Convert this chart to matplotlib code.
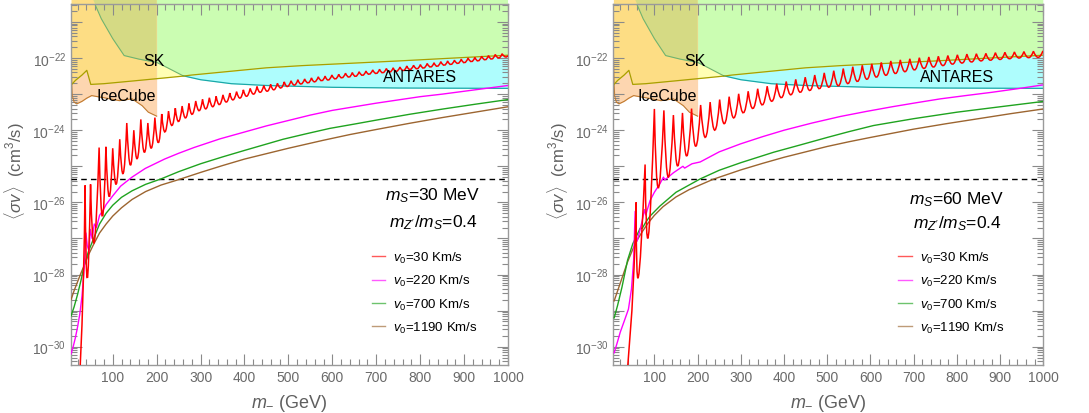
import numpy as np
import matplotlib
matplotlib.use('Agg')
import matplotlib.pyplot as plt
from matplotlib.path import Path
from matplotlib.patches import PathPatch
from matplotlib.lines import Line2D
from matplotlib.ticker import FixedLocator, FuncFormatter, LogLocator, MultipleLocator, NullFormatter

plt.rcParams['font.family'] = ['Liberation Sans', 'DejaVu Sans']
plt.rcParams['mathtext.fontset'] = 'custom'
plt.rcParams['mathtext.rm'] = 'Liberation Sans'
plt.rcParams['mathtext.it'] = 'Liberation Sans:italic'
plt.rcParams['mathtext.bf'] = 'Liberation Sans:bold'

# ---------------- data (log10 of <sigma v> in cm^3/s, x in GeV) ----------------
# exclusion-region boundaries (same in both panels)
sk_x = [52, 74, 100, 126, 160, 200, 225, 260, 300, 370, 450, 600, 750, 1000]
sk_logy = [-20.3, -20.91, -21.46, -21.93, -22.03, -22.12, -22.27, -22.49, -22.6, -22.71, -22.76, -22.81, -22.83, -22.84]
sk_split = 7  # index where the boundary passes below the upper (olive) curve

up_x = [5, 15, 30, 41, 50, 80, 150, 210, 260, 280, 450, 530, 750, 1000]
up_logy = [-22.75, -22.62, -22.47, -22.34, -22.73, -22.71, -22.63, -22.56, -22.5, -22.47, -22.27, -22.21, -22.08, -21.92]

ic_x = [5, 6.5, 8, 12, 18, 30, 41, 52, 70, 85, 115, 144, 167, 181, 200]
ic_logy = [-21.8, -22.6, -23.05, -23.22, -23.27, -23.2, -23.11, -23.04, -23.08, -23.11, -23.18, -23.13, -23.32, -23.5, -23.61]

relic = 4.4e-26

y_decades = list(range(-30, -20))   # major y ticks (10^-30 ... 10^-21)
x_major = list(range(100, 1001, 100))

# ---- left panel: m_S = 30 MeV ----
red30_x = [25, 30, 33, 35.5, 37,
           42, 49.5, 58, 69, 76.5, 84.5, 92, 100, 108, 116, 124, 132, 140, 148, 156, 164,
           172, 180, 188, 196, 204, 211.5, 219, 227, 235, 242.5, 250, 258, 266, 273.5,
           281, 289, 297, 304.5, 312, 320, 328, 335.5, 343, 351, 359, 366.5, 374, 382,
           390, 397.5, 405, 413, 421, 428.5, 436, 444, 452, 459.5, 467, 475, 483, 490.5,
           498, 506, 514, 521.5, 529, 537, 545, 552.5, 560, 568, 576, 583.5, 591, 599,
           607, 614.5, 622, 630, 638, 645.5, 653, 661, 669, 676.5, 684, 692, 700, 707.5,
           715, 723, 731, 738.5, 746, 754, 762, 769.5, 777, 785, 793, 800.5, 808, 816,
           824, 831.5, 839, 847, 855, 862.5, 870, 878, 886, 893.5, 901, 909, 917, 924.5,
           932, 940, 948, 955.5, 963, 971, 979, 986.5, 994, 1000]
red30_logy = [-30.8, -29.4, -28.2, -26.9, -25.53,
              -28.12, -25.5, -27.1, -24.48, -26.4, -24.46, -25.85, -24.5, -25.5, -24.25, -25.2, -23.8, -24.97, -24.0, -24.79, -23.7,
              -24.62, -23.8, -24.5, -23.65, -24.35, -23.55, -24.05, -23.47, -23.87, -23.39, -23.76, -23.33, -23.66, -23.26,
              -23.56, -23.19, -23.46, -23.14, -23.41, -23.10, -23.35, -23.06, -23.29, -23.02, -23.22, -22.97, -23.16, -22.93,
              -23.11, -22.88, -23.06, -22.84, -23.00, -22.79, -22.95, -22.76, -22.92, -22.73, -22.88, -22.70, -22.83, -22.66,
              -22.79, -22.63, -22.75, -22.60, -22.72, -22.58, -22.69, -22.55, -22.66, -22.52, -22.63, -22.50, -22.61, -22.47,
              -22.58, -22.45, -22.55, -22.42, -22.53, -22.40, -22.51, -22.38, -22.48, -22.36, -22.45, -22.33, -22.43, -22.31,
              -22.41, -22.29, -22.39, -22.27, -22.37, -22.25, -22.35, -22.22, -22.32, -22.20, -22.30, -22.18, -22.28, -22.15,
              -22.25, -22.13, -22.23, -22.10, -22.20, -22.08, -22.18, -22.06, -22.15, -22.03, -22.13, -22.00, -22.10, -21.98,
              -22.08, -21.95, -22.05, -21.93, -22.03, -21.90, -22.00, -21.88, -21.97, -21.93]

mag30_x = [5, 10, 15, 20, 25, 30, 34, 37, 39, 42, 46, 49, 53, 58, 63, 70, 78, 85, 100, 118, 144, 174, 218, 250, 285, 344,
           400, 450, 500, 550, 600, 650, 700, 750, 800, 850, 900, 950, 1000]
mag30_logy = [-30.2, -30.0, -29.75, -29.45, -29.1, -28.6, -28.0, -27.4, -26.85, -27.2, -27.35, -26.75, -27.0, -26.6, -26.7,
              -26.36, -26.22, -26.06, -25.82, -25.55, -25.3, -25.06, -24.8, -24.64, -24.48, -24.24,
              -24.05, -23.88, -23.73, -23.58, -23.45, -23.35, -23.25, -23.16, -23.07, -23.0, -22.92, -22.84, -22.76]

grn30_x = [5, 12, 20, 28, 35, 45, 55, 70, 85, 100, 120, 144, 175, 210, 250, 300, 350, 400, 488, 540, 594, 650, 700,
           775, 853, 925, 1000]
grn30_logy = [-29.15, -28.9, -28.55, -28.15, -27.75, -27.35, -27.05, -26.6, -26.3, -26.08, -25.86, -25.68, -25.5, -25.35,
              -25.15, -24.93, -24.74, -24.56, -24.25, -24.1, -23.95, -23.83, -23.72, -23.56, -23.41, -23.28, -23.15]

brn30_x = [5, 12, 20, 28, 35, 45, 55, 70, 85, 100, 120, 144, 175, 210, 250, 300, 350, 400, 450, 500, 579, 640, 700,
           775, 850, 925, 1000]
brn30_logy = [-28.7, -28.45, -28.2, -27.95, -27.75, -27.45, -27.2, -26.85, -26.6, -26.38, -26.15, -25.92, -25.7, -25.52,
              -25.37, -25.17, -24.98, -24.8, -24.65, -24.5, -24.28, -24.12, -23.98, -23.81, -23.65, -23.5, -23.35]

# ---- right panel: m_S = 60 MeV ----
red60_x = [38, 48, 53, 56, 57.7,
           63, 78.5, 86, 100, 109, 122, 132, 144, 154, 165, 175, 186, 196, 207, 218, 229,
           240, 251, 262, 273, 284, 295, 306, 317, 328, 339, 350, 361, 372, 383, 394, 405,
           416, 427, 438, 449, 460, 471, 482, 493, 504, 515, 526, 537, 548, 559, 570, 581,
           592, 603, 614, 625, 636, 647, 658, 669, 680, 691, 702, 713, 724, 735, 746, 757,
           768, 779, 790, 801, 812, 823, 834, 845, 856, 867, 878, 889, 900, 911, 922, 933,
           944, 955, 966, 977, 988, 999]
red60_logy = [-30.6, -29.0, -27.8, -26.8, -26.0,
              -28.08, -24.95, -26.95, -23.41, -25.6, -23.45, -25.3, -23.58, -25.0, -23.52, -24.72, -23.4, -24.45, -23.3, -24.2, -23.22,
              -24.0, -23.15, -23.82, -23.07, -23.66, -22.99, -23.52, -22.92, -23.4, -22.85, -23.3, -22.78, -23.2, -22.71, -23.1, -22.65,
              -23.02, -22.59, -22.95, -22.53, -22.9, -22.47, -22.85, -22.41, -22.81, -22.35, -22.77, -22.29, -22.71, -22.24, -22.65, -22.2,
              -22.59, -22.16, -22.53, -22.12, -22.48, -22.08, -22.43, -22.05, -22.38, -22.02, -22.33, -21.99, -22.29, -21.97, -22.25, -21.95,
              -22.21, -21.93, -22.17, -21.91, -22.14, -21.89, -22.11, -21.88, -22.08, -21.87, -22.06, -21.85, -22.04, -21.84, -22.02, -21.83,
              -22.0, -21.82, -21.99, -21.81, -21.98, -21.80]

mag60_x = [7, 15, 21, 30, 40, 47, 52, 55.5, 57, 60, 66, 72, 77, 80, 90, 100, 113, 121, 124, 144, 166, 170, 187, 206, 250,
           299, 350, 400, 465, 530, 590, 650, 705, 762, 820, 880, 940, 1001]
mag60_logy = [-30.17, -29.85, -29.6, -29.3, -28.96, -28.4, -27.6, -26.25, -26.95, -27.07, -26.8, -26.5, -26.2, -26.35,
              -25.95, -25.72, -25.48, -25.3, -25.38, -25.18, -25.0, -25.05, -24.93, -24.88, -24.6, -24.38, -24.18, -24.0,
              -23.8, -23.62, -23.48, -23.35, -23.24, -23.13, -23.04, -22.95, -22.85, -22.74]

grn60_x = [7, 15, 25, 38, 50, 60, 67, 72, 80, 90, 113, 150, 206, 250, 300, 376, 440, 500, 550, 607, 700, 800, 900, 1001]
grn60_logy = [-29.2, -28.85, -28.35, -27.6, -27.15, -26.9, -26.72, -26.72, -26.55, -26.38, -26.1, -25.72, -25.35, -25.11,
              -24.9, -24.61, -24.4, -24.2, -24.04, -23.87, -23.68, -23.5, -23.35, -23.2]

brn60_x = [7, 15, 25, 38, 50, 60, 70, 85, 100, 120, 150, 180, 236, 300, 350, 400, 450, 500, 550, 600, 700, 775, 850, 925, 1000]
brn60_logy = [-28.73, -28.45, -28.1, -27.65, -27.3, -27.05, -26.85, -26.58, -26.36, -26.12, -25.85, -25.65, -25.36, -25.1,
              -24.92, -24.75, -24.6, -24.45, -24.32, -24.2, -23.97, -23.82, -23.68, -23.54, -23.41]

legend_labels = [r'$v_0$=30 Km/s', r'$v_0$=220 Km/s', r'$v_0$=700 Km/s', r'$v_0$=1190 Km/s']
panel_labels = [(r'$m_S$=30 MeV', r"$m_{Z'}/m_S$=0.4"), (r'$m_S$=60 MeV', r"$m_{Z'}/m_S$=0.4")]

# ---------------- styling ----------------
C_RED, C_MAG, C_GRN, C_BRN = '#ff0000', '#ff00ff', '#1fa31f', '#9c6530'
F_CYAN, F_PALE, F_GREEN = '#aefdfd', '#ffffb4', '#cbfdb2'
F_PEACH, F_GOLD, F_OLIVE = '#fdd6b0', '#fddd84', '#d5da84'
TICK_C = '#8a8a8a'
LAB_C = '#5f5f5f'


def L(v):
    return 10.0 ** np.asarray(v, dtype=float)


def resonance_path(xs, logys, n_rise):
    """Straight segments up to the first peak, then for each (trough, peak) pair a
    quadratic curve from the previous peak through the listed trough to the next peak."""
    verts = [(xs[0], logys[0])]
    codes = [Path.MOVETO]
    for i in range(1, n_rise):
        verts.append((xs[i], logys[i]))
        codes.append(Path.LINETO)
    i = n_rise - 1
    while i + 2 < len(xs):
        p0 = np.array([xs[i], logys[i]])
        t = np.array([xs[i + 1], logys[i + 1]])
        p2 = np.array([xs[i + 2], logys[i + 2]])
        c = 2 * t - (p0 + p2) / 2
        verts += [tuple(c), tuple(p2)]
        codes += [Path.CURVE3, Path.CURVE3]
        i += 2
    for j in range(i + 1, len(xs)):
        verts.append((xs[j], logys[j]))
        codes.append(Path.LINETO)
    v = np.array(verts, dtype=float)
    v[:, 1] = 10.0 ** v[:, 1]
    return Path(v, codes)


def draw_regions(ax):
    top = 1e-19
    A = ax.fill_between(sk_x, L(sk_logy), top, color=F_CYAN, lw=0, zorder=1.0)
    ax.fill_between(up_x, L(up_logy), top, color=F_PALE, lw=0, zorder=1.1)
    G = ax.fill_between(up_x, L(up_logy), top, color=F_GREEN, lw=0, zorder=1.2)
    G.set_clip_path(A.get_paths()[0], ax.transData)
    O = ax.fill_between(ic_x, L(ic_logy), top, color=F_PEACH, lw=0, zorder=1.3)
    Gd = ax.fill_between(up_x, L(up_logy), top, color=F_GOLD, lw=0, zorder=1.4)
    Gd.set_clip_path(O.get_paths()[0], ax.transData)
    Ol = ax.fill_between(sk_x, L(sk_logy), top, color=F_OLIVE, lw=0, zorder=1.5)
    Ol.set_clip_path(O.get_paths()[0], ax.transData)
    # boundaries
    ax.plot(sk_x[:sk_split + 1], L(sk_logy[:sk_split + 1]), color='#6fb36f', lw=0.8, zorder=2)
    ax.plot(sk_x[sk_split:], L(sk_logy[sk_split:]), color='#1aa8a8', lw=0.9, zorder=2)
    ax.plot(up_x, L(up_logy), color='#a89f00', lw=0.9, zorder=2.1)
    ax.plot(ic_x, L(ic_logy), color='#c07a30', lw=0.8, zorder=2)
    ax.text(193, L(-22.07), 'SK', fontsize=11.5, ha='center', va='center', zorder=6)
    ax.text(130, L(-23.04), 'IceCube', fontsize=11.5, ha='center', va='center', zorder=6)
    ax.text(800, L(-22.5), 'ANTARES', fontsize=11.5, ha='center', va='center', zorder=6)


def style_axes(ax):
    ax.set_yscale('log')
    ax.set_xlim(5, 1000)
    ax.set_ylim(10 ** -30.5, 10 ** -20.5)
    ax.xaxis.set_major_locator(FixedLocator(x_major))
    ax.xaxis.set_minor_locator(MultipleLocator(20))
    ax.yaxis.set_major_locator(FixedLocator([10.0 ** e for e in y_decades]))
    ax.yaxis.set_minor_locator(LogLocator(base=10, subs=np.arange(2, 10), numticks=200))
    ax.yaxis.set_minor_formatter(NullFormatter())

    def yfmt(v, pos):
        e = int(np.round(np.log10(v)))
        return r'$10^{%d}$' % e if e % 2 == 0 else ''
    ax.yaxis.set_major_formatter(FuncFormatter(yfmt))
    ax.tick_params(which='both', direction='in', top=True, right=True, color=TICK_C,
                   labelcolor='#6a6a6a', labelsize=10, width=0.8)
    ax.tick_params(which='major', length=8)
    ax.tick_params(which='minor', length=4)
    for s in ax.spines.values():
        s.set_color('#9a9a9a')
        s.set_linewidth(1.0)
    ax.set_xlabel(r'$m_{-}$ (GeV)', fontsize=13, color=LAB_C)
    ax.set_ylabel(r'$\langle\sigma v\rangle$  (cm$^3$/s)', fontsize=12, color=LAB_C)
    ax.xaxis.set_label_coords(0.5, -0.075)
    ax.yaxis.set_label_coords(-0.1, 0.54)


fig = plt.figure(figsize=(10.89, 4.14), dpi=100)
axL = fig.add_axes([0.0652, 0.1167, 0.4013, 0.8713])
axR = fig.add_axes([0.5632, 0.1167, 0.3949, 0.8713])

panels = [
    (axL, (red30_x, red30_logy), (mag30_x, mag30_logy), (grn30_x, grn30_logy), (brn30_x, brn30_logy),
     (0.828, 0.470, 0.396), (0.688, 0.318)),
    (axR, (red60_x, red60_logy), (mag60_x, mag60_logy), (grn60_x, grn60_logy), (brn60_x, brn60_logy),
     (0.799, 0.461, 0.394), (0.663, 0.318)),
]

for k, (ax, red, mag, grn, brn, ann, legpos) in enumerate(panels):
    draw_regions(ax)
    ax.axhline(relic, color='black', lw=1.0, ls=(0, (4, 3)), zorder=3)
    ax.plot(brn[0], L(brn[1]), color=C_BRN, lw=1.0, zorder=4)
    ax.plot(grn[0], L(grn[1]), color=C_GRN, lw=1.0, zorder=4.1)
    ax.plot(mag[0], L(mag[1]), color=C_MAG, lw=1.0, zorder=4.2)
    ax.add_patch(PathPatch(resonance_path(red[0], red[1], 5), facecolor='none',
                           edgecolor=C_RED, lw=1.1, zorder=4.3))
    style_axes(ax)
    ax.text(ann[0], ann[1], panel_labels[k][0], transform=ax.transAxes, fontsize=12.5,
            ha='center', va='center', zorder=6)
    ax.text(ann[0], ann[2], panel_labels[k][1], transform=ax.transAxes, fontsize=12.5,
            ha='center', va='center', zorder=6)
    handles = [Line2D([], [], color=c, lw=1.0, alpha=0.65) for c in (C_RED, C_MAG, C_GRN, C_BRN)]
    ax.legend(handles, legend_labels, loc='upper left', bbox_to_anchor=legpos, frameon=False,
              fontsize=9.5, handlelength=1.0, handletextpad=0.6, labelspacing=0.62,
              borderpad=0, borderaxespad=0)

fig.savefig('out.png', dpi=100)
